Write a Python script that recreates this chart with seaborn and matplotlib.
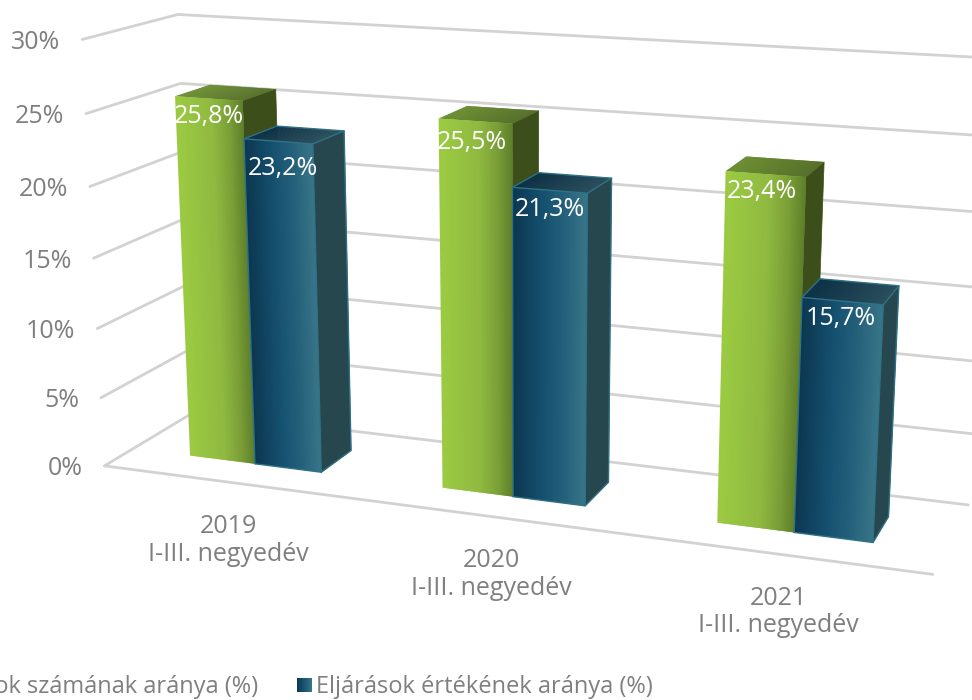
import numpy as np
import pandas as pd
import matplotlib
matplotlib.use("Agg")
import matplotlib.pyplot as plt
import seaborn as sns
from matplotlib.collections import PolyCollection
from matplotlib.colors import LinearSegmentedColormap
from matplotlib.patches import Polygon

# --- data ---
years = ["2019", "2020", "2021"]
period = "I-III. negyedév"
series_names = ["Eljárások számának aránya (%)", "Eljárások értékének aránya (%)"]
szam_values = [25.8, 25.5, 23.4]
ertek_values = [23.2, 21.3, 15.7]
value_ticks = [0, 5, 10, 15, 20, 25, 30]

# --- look ---
GRAY = "#7F7F7F"
GRID = "#D2D2D2"
FONT = 18
DEPTH_FRONT, DEPTH_BACK = 0.31, 0.69
# small hand shifts of the data labels, per series and year (pixels)
label_nudge = [[(0, 1), (-3, 5), (-4, 0)], [(5, 10), (0, 2), (-2, 0)]]

front_cmaps = [
    LinearSegmentedColormap.from_list("g", [(0, "#9CCB42"), (.55, "#8FB940"), (.8, "#7A9E37"), (1, "#5E7F2B")]),
    LinearSegmentedColormap.from_list("b", [(0, "#0C3650"), (.4, "#15506F"), (.7, "#24607A"), (1, "#3A7688")]),
]
top_cmaps = [
    LinearSegmentedColormap.from_list("gt", ["#6D8F33", "#56702A"]),
    LinearSegmentedColormap.from_list("bt", ["#0D3145", "#2A4E5C"]),
]
side_colors = ["#3C4E1A", "#27474F"]
edge_colors = [None, "#2F7186"]

sns.set_theme(style="white")
plt.rcParams["font.family"] = ["Open Sans", "DejaVu Sans"]

fig = plt.figure(figsize=(9.72, 7.0), dpi=100)

# seaborn works out the bars in data space on a hidden axes
df = pd.DataFrame({
    "year": years * 2,
    "series": [series_names[0]] * 3 + [series_names[1]] * 3,
    "value": szam_values + ertek_values,
})
ax_data = fig.add_axes([0, 0, 1, 1])
sns.barplot(data=df, x="year", y="value", hue="series", width=0.53, legend=False, ax=ax_data)
ax_data.set_visible(False)

# pixel canvas for the 3D look
ax = fig.add_axes([0, 0, 1, 1])
ax.set_xlim(0, 972)
ax.set_ylim(700, 0)
ax.axis("off")

# camera calibrated on the corners of the chart box: (x, depth, value) -> pixel
box_3d = [(0, 0, 0), (0, 0, 15), (0, 0, 30), (0, 1, 0), (0, 1, 30),
          (3, 1, 0), (3, 1, 15), (3, 1, 30), (3, 0, 0)]
box_px = [(105, 465), (93, 258), (82, 40), (194, 413), (178, 14),
          (968, 505), (980, 286), (993, 59), (933, 575)]


def fit_camera(pts3, pts2):
    rows, rhs = [], []
    for (x, y, z), (u, v) in zip(pts3, pts2):
        rows.append([x, y, z, 1, 0, 0, 0, 0, -u * x, -u * y, -u * z])
        rows.append([0, 0, 0, 0, x, y, z, 1, -v * x, -v * y, -v * z])
        rhs += [u, v]
    p = np.linalg.lstsq(np.array(rows, float), np.array(rhs, float), rcond=None)[0]
    return np.append(p, 1).reshape(3, 4)


CAM = fit_camera(box_3d, box_px)


def proj(x, y, z):
    u, v, w = CAM @ np.array([x, y, z, 1.0])
    return u / w, v / w


def gradient_face(corner_fn, cmap, zorder, n=60):
    # corner_fn(t) gives the two ends of a cross section at t in 0..1
    # every strip runs over the next one so no seams show
    polys, cols = [], []
    for i in range(n):
        a0, b0 = corner_fn(i / n)
        a1, b1 = corner_fn(min(i + 2, n) / n)
        polys.append([a0, a1, b1, b0])
        cols.append(cmap((i + .5) / n))
    ax.add_collection(PolyCollection(polys, facecolors=cols, edgecolors="none", zorder=zorder))


# gridlines on the side wall and the back wall, floor front edge
for v in value_ticks:
    ax.plot(*zip(proj(0, 0, v), proj(0, 1, v), proj(3, 1, v)), color=GRID, lw=2, zorder=1, solid_joinstyle="miter")
ax.plot(*zip(proj(0, 0, 0), proj(3, 0, 0)), color=GRID, lw=2, zorder=1)
for v in value_ticks:
    px, py = proj(0, 0, v)
    ax.text(px - 22, py + 3, f"{v}%", ha="right", va="center", color=GRAY, fontsize=FONT)

# bars, as seaborn placed them
z = 2
for s, container in enumerate(ax_data.containers):
    for i, patch in enumerate(container):
        x0 = patch.get_x() + 0.5
        x1 = x0 + patch.get_width()
        h = patch.get_height()
        y0, y1 = DEPTH_FRONT, DEPTH_BACK

        # right side
        side = [proj(x1, y0, 0), proj(x1, y1, 0), proj(x1, y1, h), proj(x1, y0, h)]
        ax.add_patch(Polygon(side, fc=side_colors[s], ec=side_colors[s], lw=.5, zorder=z))
        # top
        gradient_face(lambda t: (proj(x0 + t * (x1 - x0), y0, h), proj(x0 + t * (x1 - x0), y1, h)), top_cmaps[s], z)
        # front
        gradient_face(lambda t: (proj(x0 + t * (x1 - x0), y0, 0), proj(x0 + t * (x1 - x0), y0, h)), front_cmaps[s], z)

        if edge_colors[s]:
            for line in ([(x0, y0, 0), (x1, y0, 0), (x1, y1, 0), (x1, y1, h), (x0, y1, h), (x0, y0, h), (x0, y0, 0)],
                         [(x0, y0, h), (x1, y0, h), (x1, y0, 0)],
                         [(x1, y0, h), (x1, y1, h)]):
                ax.plot(*zip(*[proj(*p) for p in line]), color=edge_colors[s], lw=1, zorder=z + .5)

        # data label just under the front top edge
        lx, ly = proj((x0 + x1) / 2, y0, h)
        dx, dy = label_nudge[s][i]
        ax.text(lx + dx, ly + 17 + dy, f"{h:.1f}%".replace(".", ","), ha="center", va="center",
                color="white", fontsize=FONT, zorder=10)
        z += 1

# category labels under the floor
for i, year in enumerate(years):
    lx, ly = proj(ax_data.get_xticks()[i] + 0.47, 0, 0)
    ax.text(lx + 8, ly + 59, f"{year}\n{period}", ha="center", va="center", color=GRAY,
            fontsize=FONT, linespacing=1.15)

# legend, the left entry runs off the canvas like in the source
ax.text(258, 687, series_names[0], ha="right", va="center", color=GRAY, fontsize=17)
gradient_face(lambda t: ((297 + 15 * t, 678), (297 + 15 * t, 692)), front_cmaps[1], 3, n=15)
ax.text(316, 687, series_names[1], ha="left", va="center", color=GRAY, fontsize=17)

fig.savefig("out.png", dpi=100)
